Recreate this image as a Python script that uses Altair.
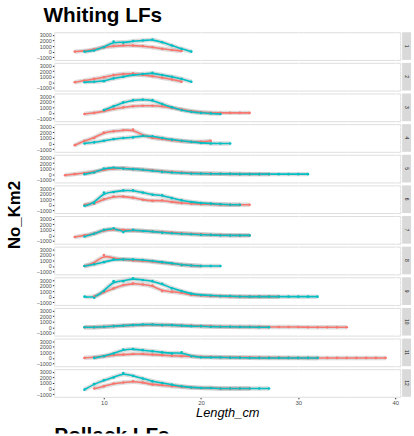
import altair as alt
import pandas as pd

panel_ids = list(range(1, 13))

red_start = [7, 7, 8, 7, 6, 8, 7, 8, 9, 8, 8, 9]
red_values = [
    [0, 100, 400, 800, 1000, 1100, 1100, 1000, 800, 500, 300, 100],
    [0, 300, 600, 900, 1300, 1500, 1600, 1300, 1100, 800, 500, 100],
    [-200, 0, 300, 700, 1000, 1200, 1300, 1300, 1200, 900, 600, 300, 100, 0, 0, 0, 0, 0],
    [-300, 500, 1000, 2000, 2200, 2400, 2500, 1500, 1000, 800, 600, 400, 300, 300, 500],
    [-200, 0, 200, 400, 800, 1000, 1100, 900, 800, 700, 500, 400, 300, 200, 100, 100, 50, 50, 0, 0, 0, 0],
    [0, 200, 1000, 1500, 1500, 1300, 900, 700, 800, 500, 300, 200, 100, 100, 0, 0, 0, 0],
    [-300, 0, 300, 900, 1100, 1000, 900, 800, 700, 600, 500, 400, 300, 200, 100, 100, 0, 0, 0],
    [0, 500, 2000, 1400, 1200, 1000, 900, 800, 600, 400, 200, 100, 0],
    [0, 800, 1500, 2100, 2400, 2200, 2000, 1000, 900, 700, 300, 200, 100, 100, 0, 0, 0, 0, 0, 0],
    [0, 0, 100, 200, 300, 400, 400, 500, 400, 400, 300, 300, 200, 200, 100, 100, 100, 100, 100, 50,
     50, 50, 50, 0, 0, 0, 0, 0],
    [0, 100, 300, 500, 600, 700, 700, 600, 500, 400, 300, 300, 200, 200, 100, 100, 100, 100, 50, 50,
     50, 50, 0, 0, 0, 0, 0, 0, 0, 0, 0, 0],
    [0, 400, 900, 1100, 1300, 1100, 700, 600, 400, 300, 200, 100, 100, 0, 0, 0, 0],
]

teal_start = [8, 8, 10, 8, 8, 8, 8, 8, 8, 8, 9, 8]
teal_values = [
    [0, 200, 800, 1800, 1600, 1900, 2000, 2200, 1700, 1100, 500, 0],
    [0, 100, 200, 700, 1000, 1300, 1500, 1700, 1300, 1000, 600, 100],
    [500, 1200, 1900, 2300, 2400, 2300, 1600, 1000, 500, 200, 0, -100, -200],
    [0, 200, 500, 800, 1000, 1100, 1400, 1300, 1000, 700, 500, 300, 100, 0, 0, 0],
    [0, 300, 1000, 1200, 1000, 900, 800, 600, 400, 300, 200, 100, 100, 50, 50, 50, 0, 0, 0, 0, 0, 0, 0, 0],
    [-200, 300, 2200, 2300, 2600, 2600, 2200, 1800, 1700, 1200, 800, 500, 300, 200, 100, 0, 0],
    [-200, 300, 1000, 1300, 600, 1000, 800, 700, 500, 400, 300, 200, 100, 100, 0, 0, 0, 0],
    [0, 300, 700, 1200, 1200, 1200, 1100, 900, 700, 500, 200, 100, 0, 0, 0],
    [0, -200, 1000, 2800, 2800, 3300, 3000, 2800, 2300, 1500, 1000, 500, 300, 200, 100, 100, 0, 0, 0, 0,
     0, 0, 0, 0, 0],
    [0, 0, 100, 200, 300, 400, 500, 500, 400, 400, 300, 200, 200, 100, 100, 100, 50, 50, 0, 0],
    [0, 300, 800, 1500, 1600, 1400, 1200, 1000, 800, 1000, 300, 100, 100, 100, 50, 50, 0, 0, 0, 0, 0, 0, 0, 0],
    [-200, 800, 1500, 2000, 2800, 2300, 1800, 1300, 1000, 700, 400, 200, 100, 100, 0, 0, 0, 0, 0, 0],
]

x_ticks = [5, 10, 15, 20, 25, 30, 35, 40]
y_ticks = [-1000, -500, 0, 500, 1000, 1500, 2000, 2500, 3000]

rows = []
for i, p in enumerate(panel_ids):
    for sex, start, vals in (("F", red_start[i], red_values[i]), ("M", teal_start[i], teal_values[i])):
        for k, v in enumerate(vals):
            rows.append({"panel": p, "sex": sex, "length": start + k, "value": v})
df = pd.DataFrame(rows)

RED = "#F8766D"
TEAL = "#00BFC4"
FONT = "Liberation Sans"

x_enc = alt.X(
    "length:Q",
    scale=alt.Scale(domain=[4.9, 40.5], nice=False, zero=False),
    axis=alt.Axis(
        values=x_ticks,
        labelExpr="datum.value % 10 === 0 ? datum.label : ''",
        gridColor="white",
        gridWidth={"condition": {"test": "datum.value % 10 === 0", "value": 1}, "value": 0.5},
        tickSize={"condition": {"test": "datum.value % 10 === 0", "value": 2}, "value": 0},
        tickColor="#333333",
        domain=False,
        labelFontSize=6,
        labelColor="#4D4D4D",
        labelPadding=1,
        title="Length_cm",
        titleFont=FONT,
        titleFontSize=13,
        titleFontStyle="italic",
        titleFontWeight="normal",
        titleColor="black",
        titlePadding=1,
    ),
)
y_enc = alt.Y(
    "value:Q",
    scale=alt.Scale(domain=[-1500, 3500], nice=False, zero=False),
    axis=alt.Axis(
        values=y_ticks,
        format="d",
        labelExpr="datum.value % 1000 === 0 ? datum.label : ''",
        gridColor="white",
        gridWidth={"condition": {"test": "datum.value % 1000 === 0", "value": 0.9}, "value": 0.45},
        tickSize={"condition": {"test": "datum.value % 1000 === 0", "value": 2}, "value": 0},
        tickColor="#333333",
        domain=False,
        labelFontSize=5.5,
        labelColor="#4D4D4D",
        labelPadding=1,
        title=None,
    ),
)
color = alt.Color("sex:N", scale=alt.Scale(domain=["F", "M"], range=[RED, TEAL]), legend=None)

strip_rect = alt.Chart().transform_aggregate(n="count()", groupby=["panel"]).mark_rect(
    color="#D9D9D9"
).encode(x=alt.value(352), x2=alt.value(361), y=alt.value(0), y2=alt.value(28))

strip_text = alt.Chart().transform_aggregate(n="count()", groupby=["panel"]).mark_text(
    angle=90, fontSize=5, color="#1A1A1A", font=FONT
).encode(x=alt.value(356.5), y=alt.value(14), text="panel:N")

base = alt.Chart().encode(x=x_enc, y=y_enc)
halo = base.mark_line(interpolate="basis", strokeWidth=4.5, color="#9A9A9A", opacity=0.35).encode(
    detail="sex:N"
)
lines = base.mark_line(interpolate="basis", strokeWidth=1.6).encode(color=color)
points = base.mark_point(filled=True, size=7, opacity=1).encode(color=color)

panels = alt.layer(strip_rect, strip_text, halo, lines, points, data=df).properties(width=350, height=28)

main = panels.facet(
    row=alt.Row(
        "panel:O",
        title="No_Km2",
        header=alt.Header(
            labels=False,
            titleOrient="left",
            titleFont=FONT,
            titleFontSize=17,
            titleFontWeight="bold",
            titleColor="black",
            titlePadding=2,
        ),
    ),
    spacing=3,
    bounds="flush",
    title=alt.TitleParams(
        "Whiting LFs", anchor="start", font=FONT, fontSize=21, fontWeight="bold",
        color="black", dx=38, offset=5,
    ),
)

bottom = alt.Chart(pd.DataFrame({"t": ["Pollack LFs"]})).mark_text(
    clip=True, align="left", baseline="top", fontSize=21, fontWeight="bold", font=FONT, color="black"
).encode(x=alt.value(0), y=alt.value(2), text="t:N").properties(
    width=350, height=10, view=alt.ViewBackground(fill="white", stroke="transparent")
)

chart = alt.vconcat(main, bottom, spacing=3).properties(
    padding={"left": 5, "top": 2, "right": 2, "bottom": 0}
).configure_view(fill="#EBEBEB", stroke="transparent").configure(font=FONT)

chart.save("out.html", embed_options={"renderer": "svg", "actions": False})
